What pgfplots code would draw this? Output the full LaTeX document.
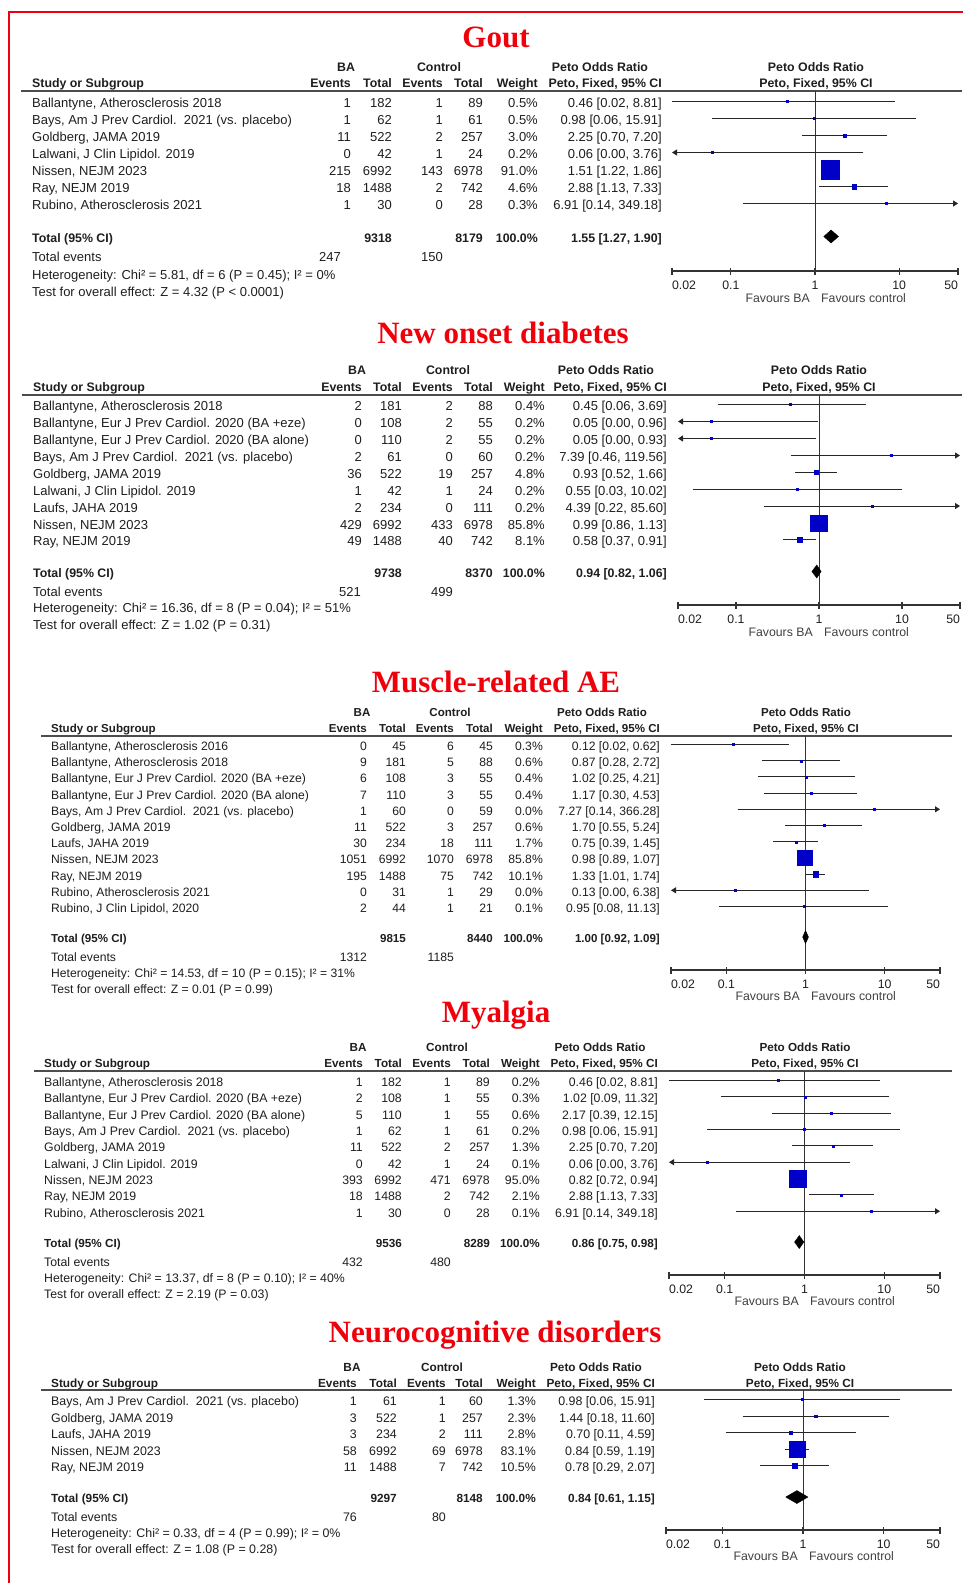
\documentclass[border=0pt]{standalone}
\usepackage{pgfplots}
\pgfplotsset{compat=1.18}
\usepackage{fontspec}
\setmainfont{Liberation Sans}
\newfontfamily\titlefont{Liberation Serif}
\usetikzlibrary{arrows.meta}
\definecolor{sqblue}{RGB}{0,0,200}
\definecolor{tred}{RGB}{240,0,10}
\definecolor{txt}{RGB}{30,30,30}

\def\fs{13}
\def\fsb{12.35}
\newcommand\tf{\fontsize{\fs bp}{\fs bp}\selectfont}
\newcommand\tfb{\fontsize{\fsb bp}{\fsb bp}\selectfont\bfseries}
\newcommand\tickf{\fontsize{12.3bp}{13bp}\selectfont}

\newcommand\frow[8]{%
 \node[anchor=base west] at (\cS,#1+4.5) {#2};
 \node[anchor=base east] at (\cE,#1+4.5) {#3};
 \node[anchor=base east] at (\cT,#1+4.5) {#4};
 \node[anchor=base east] at (\cEE,#1+4.5) {#5};
 \node[anchor=base east] at (\cTT,#1+4.5) {#6};
 \node[anchor=base east] at (\cW,#1+4.5) {#7};
 \node[anchor=base east] at (\cCI,#1+4.5) {#8};}
\newcommand\fhdr{%
 \node[anchor=base,hb] at (\cBA,\hA+4.5) {BA};
 \node[anchor=base,hb] at (\cCt,\hA+4.5) {Control};
 \node[anchor=base,hb] at (\cPC,\hA+4.5) {Peto Odds Ratio};
 \node[anchor=base,hb] at (\cPH,\hA+4.5) {Peto Odds Ratio};
 \node[anchor=base west,hb] at (\cS,\hB+4.5) {Study or Subgroup};
 \node[anchor=base east,hb] at (\cE,\hB+4.5) {Events};
 \node[anchor=base east,hb] at (\cT,\hB+4.5) {Total};
 \node[anchor=base east,hb] at (\cEE,\hB+4.5) {Events};
 \node[anchor=base east,hb] at (\cTT,\hB+4.5) {Total};
 \node[anchor=base east,hb] at (\cW,\hB+4.5) {Weight};
 \node[anchor=base east,hb] at (\cCI,\hB+4.5) {Peto, Fixed, 95\% CI};
 \node[anchor=base,hb] at (\cPH,\hB+4.5) {Peto, Fixed, 95\% CI};
 \draw[line width=1.4bp, black!70] (\hLa,\hL) -- (\hLb,\hL);}
\newcommand\ftot[4]{%
 \node[anchor=base west,hb] at (\cS,#1+4.5) {Total (95\% CI)};
 \node[anchor=base east,hb] at (\cT,#1+4.5) {#2};
 \node[anchor=base east,hb] at (\cTT,#1+4.5) {#3};
 \node[anchor=base east,hb] at (\cW,#1+4.5) {100.0\%};
 \node[anchor=base east,hb] at (\cCI,#1+4.5) {#4};}
\newcommand\fev[5]{%
 \node[anchor=base west] at (\cS,#1+4.5) {Total events};
 \node[anchor=base east] at (#3,#1+4.5) {#2};
 \node[anchor=base east] at (#5,#1+4.5) {#4};}
\newcommand\fst[2]{\node[anchor=base west] at (\cS,#1+4.5) {#2};}
\newcommand\ffav[2]{%
 \node[anchor=base east,font=\tickf,text=black!75] at (#1-5,#2+4.4) {Favours BA};
 \node[anchor=base west,font=\tickf,text=black!75] at (#1+6,#2+4.4) {Favours control};}
\newcommand\fttl[3]{\node[anchor=base, text=tred, font=\titlefont\bfseries\fontsize{31bp}{31bp}\selectfont] at (#1,#2) {#3};}

\newcommand\fci[3]{\addplot[line width=0.9bp, black!85, no markers] coordinates {(#1,#3) (#2,#3)};}
\newcommand\fcir[2]{\addplot[line width=0.9bp, black!85, no markers,-{Triangle[length=5bp,width=6bp]}] coordinates {(#1,#2) (50,#2)};}
\newcommand\fcil[2]{\addplot[line width=0.9bp, black!85, no markers,-{Triangle[length=5bp,width=6bp]}] coordinates {(#1,#2) (0.02,#2)};}
\newcommand\fsq[3]{\addplot[only marks, mark=square*, mark size=#3bp, mark options={draw=sqblue, fill=sqblue, line width=0.1bp}] coordinates {(#1,#2)};}
\newcommand\fdia[6]{\addplot[fill=black, draw=black, line width=0.4bp, no markers] coordinates {(#1,#4) (#2,#5) (#3,#4) (#2,#6) (#1,#4)};}
\newcommand\fvl[2]{\addplot[line width=1bp, black!80, no markers] coordinates {(1,#1) (1,#2)};}

\begin{document}
\begin{tikzpicture}
\begin{scope}[x=1bp,y=-1bp, every node/.style={inner sep=0pt, font=\tf, text=txt}, hb/.style={font=\tfb}]
\path[use as bounding box] (0,0) rectangle (962,1583);
\draw[tred, line width=1.3bp] (9,1590) -- (9,12) -- (970,12);

%%%%%%%%%% Panel 1: Gout
\def\fs{13}\def\fsb{12.35}
\def\cS{32}\def\cE{351}\def\cT{392}\def\cEE{443}\def\cTT{483}\def\cW{538}\def\cCI{662}
\def\hA{67}\def\hB{83}\def\cBA{346}\def\cCt{439}\def\cPC{600}\def\cPH{816}\def\hL{91}\def\hLa{21}\def\hLb{962}
\fttl{496}{48}{Gout}
\fhdr
\frow{103}{Ballantyne, Atherosclerosis 2018}{1}{182}{1}{89}{0.5\%}{0.46 [0.02, 8.81]}
\frow{120}{Bays, Am J Prev Cardiol.\ \ 2021 (vs. placebo)}{1}{62}{1}{61}{0.5\%}{0.98 [0.06, 15.91]}
\frow{137}{Goldberg, JAMA 2019}{11}{522}{2}{257}{3.0\%}{2.25 [0.70, 7.20]}
\frow{154}{Lalwani, J Clin Lipidol. 2019}{0}{42}{1}{24}{0.2\%}{0.06 [0.00, 3.76]}
\frow{171}{Nissen, NEJM 2023}{215}{6992}{143}{6978}{91.0\%}{1.51 [1.22, 1.86]}
\frow{188}{Ray, NEJM 2019}{18}{1488}{2}{742}{4.6\%}{2.88 [1.13, 7.33]}
\frow{205}{Rubino, Atherosclerosis 2021}{1}{30}{0}{28}{0.3\%}{6.91 [0.14, 349.18]}
\ftot{238}{9318}{8179}{1.55 [1.27, 1.90]}
\fev{257}{247}{341}{150}{443}
\fst{275}{Heterogeneity: Chi² = 5.81, df = 6 (P = 0.45); I² = 0\%}
\fst{292}{Test for overall effect: Z = 4.32 (P < 0.0001)}
\ffav{815}{298}

%%%%%%%%%% Panel 2: New onset diabetes
\def\fs{13}\def\fsb{12.35}
\def\cS{33}\def\cE{362}\def\cT{402}\def\cEE{453}\def\cTT{493}\def\cW{545}\def\cCI{667}
\def\hA{370}\def\hB{387}\def\cBA{357}\def\cCt{448}\def\cPC{606}\def\cPH{819}\def\hL{395}\def\hLa{22}\def\hLb{962}
\fttl{503}{343}{New onset diabetes}
\fhdr
\frow{406}{Ballantyne, Atherosclerosis 2018}{2}{181}{2}{88}{0.4\%}{0.45 [0.06, 3.69]}
\frow{423}{Ballantyne, Eur J Prev Cardiol. 2020 (BA +eze)}{0}{108}{2}{55}{0.2\%}{0.05 [0.00, 0.96]}
\frow{440}{Ballantyne, Eur J Prev Cardiol. 2020 (BA alone)}{0}{110}{2}{55}{0.2\%}{0.05 [0.00, 0.93]}
\frow{457}{Bays, Am J Prev Cardiol.\ \ 2021 (vs. placebo)}{2}{61}{0}{60}{0.2\%}{7.39 [0.46, 119.56]}
\frow{474}{Goldberg, JAMA 2019}{36}{522}{19}{257}{4.8\%}{0.93 [0.52, 1.66]}
\frow{490.5}{Lalwani, J Clin Lipidol. 2019}{1}{42}{1}{24}{0.2\%}{0.55 [0.03, 10.02]}
\frow{507.5}{Laufs, JAHA 2019}{2}{234}{0}{111}{0.2\%}{4.39 [0.22, 85.60]}
\frow{524.5}{Nissen, NEJM 2023}{429}{6992}{433}{6978}{85.8\%}{0.99 [0.86, 1.13]}
\frow{541}{Ray, NEJM 2019}{49}{1488}{40}{742}{8.1\%}{0.58 [0.37, 0.91]}
\ftot{573}{9738}{8370}{0.94 [0.82, 1.06]}
\fev{592}{521}{361}{499}{453}
\fst{608}{Heterogeneity: Chi² = 16.36, df = 8 (P = 0.04); I² = 51\%}
\fst{625}{Test for overall effect: Z = 1.02 (P = 0.31)}
\ffav{818}{632}

%%%%%%%%%% Panel 3: Muscle-related AE
\def\fs{12.15}\def\fsb{11.55}
\def\cS{51}\def\cE{367}\def\cT{406}\def\cEE{454}\def\cTT{493}\def\cW{543}\def\cCI{660}
\def\hA{712}\def\hB{728}\def\cBA{362}\def\cCt{450}\def\cPC{602}\def\cPH{806}\def\hL{736}\def\hLa{41}\def\hLb{952}
\fttl{496}{692}{Muscle-related AE}
\fhdr
\frow{746}{Ballantyne, Atherosclerosis 2016}{0}{45}{6}{45}{0.3\%}{0.12 [0.02, 0.62]}
\frow{762.2}{Ballantyne, Atherosclerosis 2018}{9}{181}{5}{88}{0.6\%}{0.87 [0.28, 2.72]}
\frow{778.4}{Ballantyne, Eur J Prev Cardiol. 2020 (BA +eze)}{6}{108}{3}{55}{0.4\%}{1.02 [0.25, 4.21]}
\frow{794.6}{Ballantyne, Eur J Prev Cardiol. 2020 (BA alone)}{7}{110}{3}{55}{0.4\%}{1.17 [0.30, 4.53]}
\frow{810.8}{Bays, Am J Prev Cardiol.\ \ 2021 (vs. placebo)}{1}{60}{0}{59}{0.0\%}{7.27 [0.14, 366.28]}
\frow{827}{Goldberg, JAMA 2019}{11}{522}{3}{257}{0.6\%}{1.70 [0.55, 5.24]}
\frow{843.2}{Laufs, JAHA 2019}{30}{234}{18}{111}{1.7\%}{0.75 [0.39, 1.45]}
\frow{859.4}{Nissen, NEJM 2023}{1051}{6992}{1070}{6978}{85.8\%}{0.98 [0.89, 1.07]}
\frow{875.6}{Ray, NEJM 2019}{195}{1488}{75}{742}{10.1\%}{1.33 [1.01, 1.74]}
\frow{891.8}{Rubino, Atherosclerosis 2021}{0}{31}{1}{29}{0.0\%}{0.13 [0.00, 6.38]}
\frow{908}{Rubino, J Clin Lipidol, 2020}{2}{44}{1}{21}{0.1\%}{0.95 [0.08, 11.13]}
\ftot{938}{9815}{8440}{1.00 [0.92, 1.09]}
\fev{957}{1312}{367}{1185}{454}
\fst{973}{Heterogeneity: Chi² = 14.53, df = 10 (P = 0.15); I² = 31\%}
\fst{989}{Test for overall effect: Z = 0.01 (P = 0.99)}
\ffav{805}{996}

%%%%%%%%%% Panel 4: Myalgia
\def\fs{12.3}\def\fsb{11.7}
\def\cS{44}\def\cE{363}\def\cT{402}\def\cEE{451}\def\cTT{490}\def\cW{540}\def\cCI{658}
\def\hA{1047}\def\hB{1063}\def\cBA{358}\def\cCt{447}\def\cPC{600}\def\cPH{805}\def\hL{1071}\def\hLa{34}\def\hLb{952}
\fttl{496}{1022}{Myalgia}
\fhdr
\frow{1082}{Ballantyne, Atherosclerosis 2018}{1}{182}{1}{89}{0.2\%}{0.46 [0.02, 8.81]}
\frow{1098.3}{Ballantyne, Eur J Prev Cardiol. 2020 (BA +eze)}{2}{108}{1}{55}{0.3\%}{1.02 [0.09, 11.32]}
\frow{1114.7}{Ballantyne, Eur J Prev Cardiol. 2020 (BA alone)}{5}{110}{1}{55}{0.6\%}{2.17 [0.39, 12.15]}
\frow{1131}{Bays, Am J Prev Cardiol.\ \ 2021 (vs. placebo)}{1}{62}{1}{61}{0.2\%}{0.98 [0.06, 15.91]}
\frow{1147.3}{Goldberg, JAMA 2019}{11}{522}{2}{257}{1.3\%}{2.25 [0.70, 7.20]}
\frow{1163.7}{Lalwani, J Clin Lipidol. 2019}{0}{42}{1}{24}{0.1\%}{0.06 [0.00, 3.76]}
\frow{1180}{Nissen, NEJM 2023}{393}{6992}{471}{6978}{95.0\%}{0.82 [0.72, 0.94]}
\frow{1196.3}{Ray, NEJM 2019}{18}{1488}{2}{742}{2.1\%}{2.88 [1.13, 7.33]}
\frow{1212.7}{Rubino, Atherosclerosis 2021}{1}{30}{0}{28}{0.1\%}{6.91 [0.14, 349.18]}
\ftot{1243}{9536}{8289}{0.86 [0.75, 0.98]}
\fev{1262}{432}{363}{480}{451}
\fst{1278}{Heterogeneity: Chi² = 13.37, df = 8 (P = 0.10); I² = 40\%}
\fst{1294}{Test for overall effect: Z = 2.19 (P = 0.03)}
\ffav{804}{1301}

%%%%%%%%%% Panel 5: Neurocognitive disorders
\def\fs{12.4}\def\fsb{11.8}
\def\cS{51}\def\cE{357}\def\cT{397}\def\cEE{446}\def\cTT{483}\def\cW{536}\def\cCI{655}
\def\hA{1367}\def\hB{1383}\def\cBA{352}\def\cCt{442}\def\cPC{596}\def\cPH{800}\def\hL{1390}\def\hLa{41}\def\hLb{952}
\fttl{495}{1342}{Neurocognitive disorders}
\fhdr
\frow{1401}{Bays, Am J Prev Cardiol.\ \ 2021 (vs. placebo)}{1}{61}{1}{60}{1.3\%}{0.98 [0.06, 15.91]}
\frow{1417.5}{Goldberg, JAMA 2019}{3}{522}{1}{257}{2.3\%}{1.44 [0.18, 11.60]}
\frow{1434}{Laufs, JAHA 2019}{3}{234}{2}{111}{2.8\%}{0.70 [0.11, 4.59]}
\frow{1450.5}{Nissen, NEJM 2023}{58}{6992}{69}{6978}{83.1\%}{0.84 [0.59, 1.19]}
\frow{1467}{Ray, NEJM 2019}{11}{1488}{7}{742}{10.5\%}{0.78 [0.29, 2.07]}
\ftot{1498}{9297}{8148}{0.84 [0.61, 1.15]}
\fev{1517}{76}{357}{80}{446}
\fst{1533}{Heterogeneity: Chi² = 0.33, df = 4 (P = 0.99); I² = 0\%}
\fst{1549}{Test for overall effect: Z = 1.08 (P = 0.28)}
\ffav{803}{1556}
\end{scope}

%%%%%%%%%% Forest plots
% Gout
\begin{axis}[xmode=log, xmin=0.02, xmax=50, scale only axis, clip=false,
  axis x line*=bottom, axis y line=none,
  x axis line style={-, line width=1.1bp, draw=black!80},
  xtick={0.02,0.1,1,10,50},
  xticklabels={\makebox[0pt][l]{0.02},0.1,1,10,\makebox[0pt][r]{50}},
  minor xtick={}, tick align=center, major tick length=7bp,
  tick style={line width=1.1bp, black!80},
  xticklabel style={anchor=base, yshift=-14.8bp, font=\tickf, text=txt, inner sep=0pt},
  anchor=south west, at={(672bp,-271bp)}, width=286bp, height=180bp, ymin=-271, ymax=-91]
\fvl{-91}{-271}
\fci{0.02}{8.81}{-101.5}
\fci{0.06}{15.91}{-118.5}
\fci{0.70}{7.20}{-135.5}
\fcil{3.76}{-152.5}
\fci{1.22}{1.86}{-169.5}
\fci{1.13}{7.33}{-186.5}
\fcir{0.14}{-203.5}
\fsq{0.46}{-101.5}{1.0}
\fsq{0.98}{-118.5}{1.0}
\fsq{2.25}{-135.5}{1.66}
\fsq{0.06}{-152.5}{1.0}
\fsq{1.51}{-169.5}{9.15}
\fsq{2.88}{-186.5}{2.06}
\fsq{6.91}{-203.5}{1.0}
\fdia{1.27}{1.55}{1.90}{-236.5}{-230}{-243}
\end{axis}

% New onset diabetes
\begin{axis}[xmode=log, xmin=0.02, xmax=50, scale only axis, clip=false,
  axis x line*=bottom, axis y line=none,
  x axis line style={-, line width=1.1bp, draw=black!80},
  xtick={0.02,0.1,1,10,50},
  xticklabels={\makebox[0pt][l]{0.02},0.1,1,10,\makebox[0pt][r]{50}},
  minor xtick={}, tick align=center, major tick length=7bp,
  tick style={line width=1.1bp, black!80},
  xticklabel style={anchor=base, yshift=-14.8bp, font=\tickf, text=txt, inner sep=0pt},
  anchor=south west, at={(678bp,-605bp)}, width=282bp, height=210bp, ymin=-605, ymax=-395]
\fvl{-395}{-605}
\fci{0.06}{3.69}{-404.5}
\fcil{0.96}{-421.5}
\fcil{0.93}{-438.5}
\fcir{0.46}{-455.5}
\fci{0.52}{1.66}{-472.5}
\fci{0.03}{10.02}{-489}
\fcir{0.22}{-506}
\fci{0.86}{1.13}{-523}
\fci{0.37}{0.91}{-539.5}
\fsq{0.45}{-404.5}{1.0}
\fsq{0.05}{-421.5}{1.0}
\fsq{0.05}{-438.5}{1.0}
\fsq{7.39}{-455.5}{1.0}
\fsq{0.93}{-472.5}{1.97}
\fsq{0.55}{-489}{1.0}
\fsq{4.39}{-506}{1.0}
\fsq{0.99}{-523}{8.34}
\fsq{0.58}{-539.5}{2.56}
\fdia{0.82}{0.94}{1.06}{-571.5}{-565}{-578}
\end{axis}

% Muscle-related AE
\begin{axis}[xmode=log, xmin=0.02, xmax=50, scale only axis, clip=false,
  axis x line*=bottom, axis y line=none,
  x axis line style={-, line width=1.1bp, draw=black!80},
  xtick={0.02,0.1,1,10,50},
  xticklabels={\makebox[0pt][l]{0.02},0.1,1,10,\makebox[0pt][r]{50}},
  minor xtick={}, tick align=center, major tick length=7bp,
  tick style={line width=1.1bp, black!80},
  xticklabel style={anchor=base, yshift=-14.8bp, font=\tickf, text=txt, inner sep=0pt},
  anchor=south west, at={(671bp,-970bp)}, width=269bp, height=234bp, ymin=-970, ymax=-736]
\fvl{-736}{-970}
\fci{0.02}{0.62}{-744.5}
\fci{0.28}{2.72}{-760.7}
\fci{0.25}{4.21}{-776.9}
\fci{0.30}{4.53}{-793.1}
\fcir{0.14}{-809.3}
\fci{0.55}{5.24}{-825.5}
\fci{0.39}{1.45}{-841.7}
\fci{0.89}{1.07}{-857.9}
\fci{1.01}{1.74}{-874.1}
\fcil{6.38}{-890.3}
\fci{0.08}{11.13}{-906.5}
\fsq{0.12}{-744.5}{1.0}
\fsq{0.87}{-760.7}{1.0}
\fsq{1.02}{-776.9}{1.0}
\fsq{1.17}{-793.1}{1.0}
\fsq{7.27}{-809.3}{1.0}
\fsq{1.70}{-825.5}{1.0}
\fsq{0.75}{-841.7}{1.06}
\fsq{0.98}{-857.9}{7.5}
\fsq{1.33}{-874.1}{2.57}
\fsq{0.13}{-890.3}{1.0}
\fsq{0.95}{-906.5}{1.0}
\fdia{0.92}{1.00}{1.09}{-937}{-930.5}{-943.5}
\end{axis}

% Myalgia
\begin{axis}[xmode=log, xmin=0.02, xmax=50, scale only axis, clip=false,
  axis x line*=bottom, axis y line=none,
  x axis line style={-, line width=1.1bp, draw=black!80},
  xtick={0.02,0.1,1,10,50},
  xticklabels={\makebox[0pt][l]{0.02},0.1,1,10,\makebox[0pt][r]{50}},
  minor xtick={}, tick align=center, major tick length=7bp,
  tick style={line width=1.1bp, black!80},
  xticklabel style={anchor=base, yshift=-14.8bp, font=\tickf, text=txt, inner sep=0pt},
  anchor=south west, at={(669bp,-1275bp)}, width=271bp, height=204bp, ymin=-1275, ymax=-1071]
\fvl{-1071}{-1275}
\fci{0.02}{8.81}{-1080.5}
\fci{0.09}{11.32}{-1096.8}
\fci{0.39}{12.15}{-1113.2}
\fci{0.06}{15.91}{-1129.5}
\fci{0.70}{7.20}{-1145.8}
\fcil{3.76}{-1162.2}
\fci{0.72}{0.94}{-1178.5}
\fci{1.13}{7.33}{-1194.8}
\fcir{0.14}{-1211.2}
\fsq{0.46}{-1080.5}{1.0}
\fsq{1.02}{-1096.8}{1.0}
\fsq{2.17}{-1113.2}{1.0}
\fsq{0.98}{-1129.5}{1.0}
\fsq{2.25}{-1145.8}{1.0}
\fsq{0.06}{-1162.2}{1.0}
\fsq{0.82}{-1178.5}{8.48}
\fsq{2.88}{-1194.8}{1.26}
\fsq{6.91}{-1211.2}{1.0}
\fdia{0.75}{0.86}{0.98}{-1242}{-1235.5}{-1248.5}
\end{axis}

% Neurocognitive disorders
\begin{axis}[xmode=log, xmin=0.02, xmax=50, scale only axis, clip=false,
  axis x line*=bottom, axis y line=none,
  x axis line style={-, line width=1.1bp, draw=black!80},
  xtick={0.02,0.1,1,10,50},
  xticklabels={\makebox[0pt][l]{0.02},0.1,1,10,\makebox[0pt][r]{50}},
  minor xtick={}, tick align=center, major tick length=7bp,
  tick style={line width=1.1bp, black!80},
  xticklabel style={anchor=base, yshift=-14.8bp, font=\tickf, text=txt, inner sep=0pt},
  anchor=south west, at={(666bp,-1530bp)}, width=274bp, height=140bp, ymin=-1530, ymax=-1390]
\fvl{-1390}{-1530}
\fci{0.06}{15.91}{-1399.5}
\fci{0.18}{11.60}{-1416}
\fci{0.11}{4.59}{-1432.5}
\fci{0.59}{1.19}{-1449}
\fci{0.29}{2.07}{-1465.5}
\fsq{0.98}{-1399.5}{1.0}
\fsq{1.44}{-1416}{1.27}
\fsq{0.70}{-1432.5}{1.4}
\fsq{0.84}{-1449}{7.66}
\fsq{0.78}{-1465.5}{2.72}
\fdia{0.61}{0.84}{1.15}{-1497}{-1490.5}{-1503.5}
\end{axis}
\end{tikzpicture}
\end{document}
